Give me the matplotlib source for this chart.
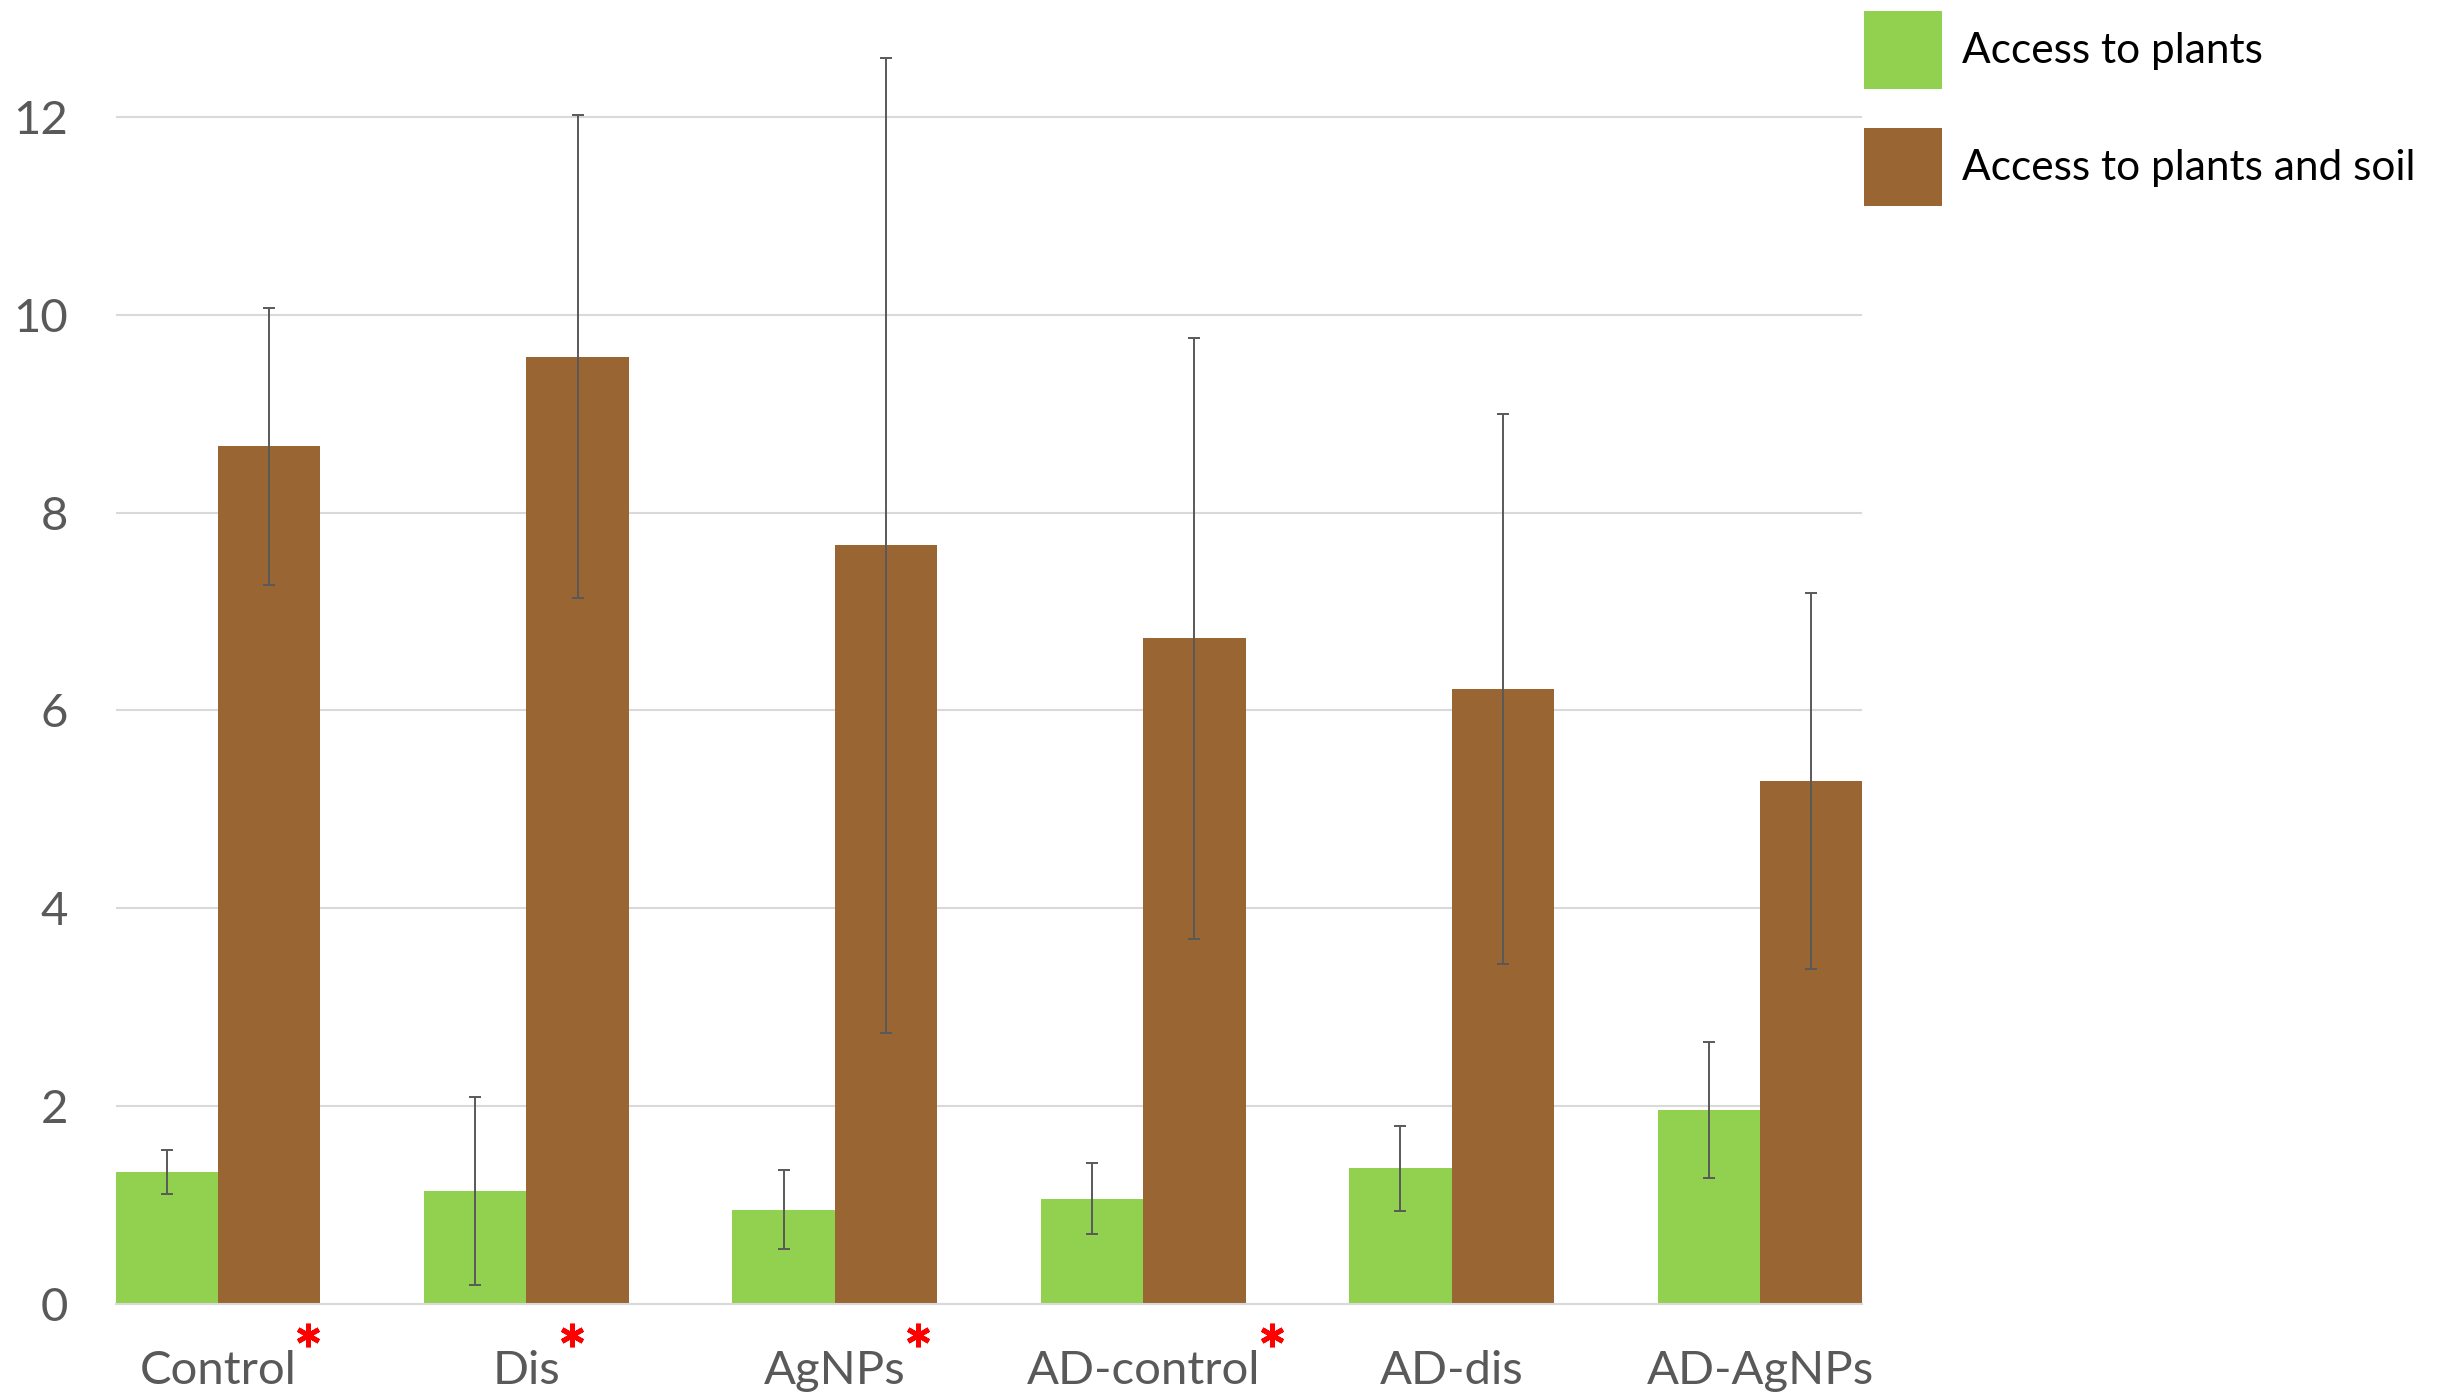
import matplotlib
matplotlib.use("Agg")
import matplotlib.pyplot as plt
import numpy as np

# data
groups = ["Control", "Dis", "AgNPs", "AD-control", "AD-dis", "AD-AgNPs"]
plants = [1.33, 1.14, 0.95, 1.06, 1.37, 1.96]
plants_err = [0.22, 0.95, 0.40, 0.36, 0.43, 0.69]
soil = [8.67, 9.58, 7.67, 6.73, 6.22, 5.29]
soil_err = [1.40, 2.44, 4.93, 3.04, 2.78, 1.90]
starred = [True, True, True, True, False, False]
series_names = ["Access to plants", "Access to plants and soil"]

green = "#92D050"
brown = "#996633"
grey = "#595959"

plt.rcParams['font.family'] = ['Lato', 'DejaVu Sans']

fig = plt.figure(figsize=(24.48, 13.94), dpi=100)
ax = fig.add_axes([0.0472, 0.0648, 0.7136, 0.922])

x = np.arange(len(groups))
w = 0.332

b1 = ax.bar(x - w / 2, plants, w, color=green, zorder=2)
b2 = ax.bar(x + w / 2, soil, w, color=brown, zorder=2)
ax.errorbar(x - w / 2, plants, yerr=plants_err, fmt='none', ecolor=grey,
            elinewidth=1.4, capsize=4, capthick=1.4, zorder=3)
ax.errorbar(x + w / 2, soil, yerr=soil_err, fmt='none', ecolor=grey,
            elinewidth=1.4, capsize=4, capthick=1.4, zorder=3, clip_on=False)

ax.set_xlim(-w, len(groups) - 1 + w)
ax.set_ylim(0, 13)
ax.set_yticks(range(0, 13, 2))
ax.set_xticks(x)
ax.set_xticklabels(groups)

ax.grid(axis='y', color='#d9d9d9', linewidth=1.5, zorder=0)
ax.set_axisbelow(True)
for s in ['top', 'right', 'left']:
    ax.spines[s].set_visible(False)
ax.spines['bottom'].set_color('#d9d9d9')
ax.spines['bottom'].set_linewidth(1.5)
ax.tick_params(axis='both', length=0, labelsize=34, labelcolor=grey)
ax.tick_params(axis='y', pad=34)
ax.tick_params(axis='x', pad=33)

ax.legend([b1, b2], series_names, loc='upper left',
          bbox_to_anchor=(0.7614, 0.992), bbox_transform=fig.transFigure,
          frameon=False, fontsize=30.5, handlelength=1.84, handleheight=2.45,
          handletextpad=0.47, labelspacing=0.92, borderpad=0, borderaxespad=0)

# red stars sit just right of the starred category labels, a bit raised
fig.canvas.draw()
r = fig.canvas.get_renderer()
axis_px = ax.transAxes.transform((0, 0))[1]
for lab, flag in zip(ax.get_xticklabels(), starred):
    if not flag:
        continue
    bb = lab.get_window_extent(r)
    px, py = bb.x1 + 12, axis_px - 31
    dx, dy = ax.transData.inverted().transform((px, py))
    ax.plot(dx, dy, marker=(6, 2, 0), markersize=17, mew=3.5, color='red',
            clip_on=False, zorder=5)

fig.savefig("out.png", dpi=100)
